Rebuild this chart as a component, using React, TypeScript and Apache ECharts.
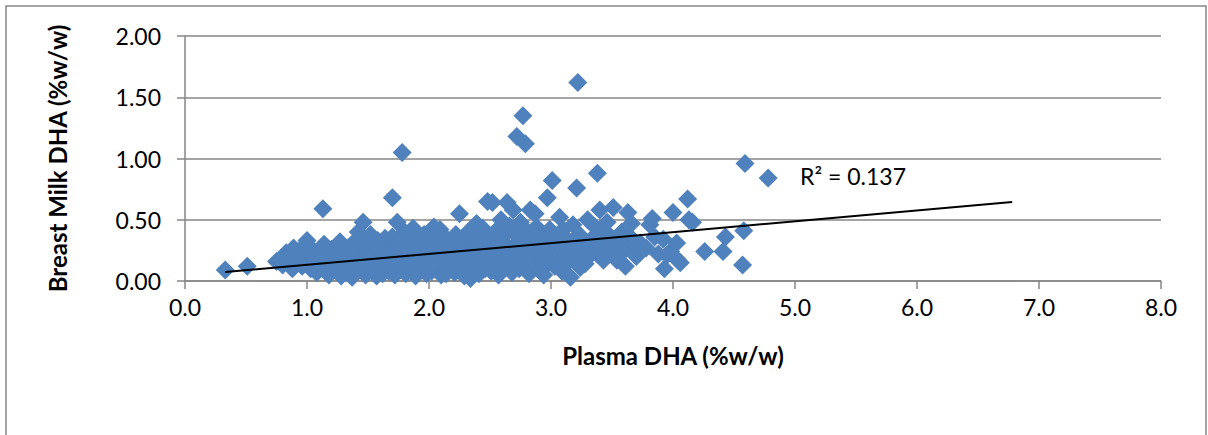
import React, { useEffect, useRef } from "react";
import * as echarts from "echarts";

// Plasma DHA (%w/w), Breast Milk DHA (%w/w) pairs, grouped by plasma range
const groupBelow1: [number, number][] = [
  [0.33, 0.09], [0.51, 0.12], [0.75, 0.16], [0.8, 0.13], [0.83, 0.23], [0.85, 0.18], [0.88, 0.1],
  [0.89, 0.27], [0.92, 0.22], [0.94, 0.15], [0.96, 0.12], [0.97, 0.28], [1.0, 0.33], [0.98, 0.2], [0.9, 0.17],
];
const group1to15: [number, number][] = [
  [1.03, 0.1], [1.05, 0.25], [1.06, 0.18], [1.08, 0.07], [1.1, 0.14], [1.12, 0.22], [1.13, 0.59], [1.14, 0.3],
  [1.15, 0.1], [1.17, 0.19], [1.18, 0.05], [1.2, 0.26], [1.22, 0.15], [1.23, 0.09], [1.25, 0.21], [1.26, 0.29],
  [1.28, 0.04], [1.29, 0.13], [1.3, 0.24], [1.32, 0.18], [1.33, 0.08], [1.35, 0.28], [1.36, 0.12], [1.38, 0.21],
  [1.39, 0.06], [1.4, 0.33], [1.41, 0.16], [1.43, 0.25], [1.44, 0.1], [1.45, 0.37], [1.46, 0.48], [1.47, 0.2],
  [1.48, 0.05], [1.49, 0.3], [1.5, 0.14], [1.42, 0.4], [1.27, 0.32], [1.19, 0.12], [1.09, 0.2], [1.37, 0.03],
];
const group15to2: [number, number][] = [
  [1.51, 0.22], [1.52, 0.38], [1.53, 0.09], [1.55, 0.27], [1.56, 0.17], [1.57, 0.04], [1.58, 0.33], [1.6, 0.12],
  [1.61, 0.24], [1.62, 0.06], [1.63, 0.19], [1.65, 0.3], [1.66, 0.14], [1.67, 0.08], [1.68, 0.25], [1.7, 0.68],
  [1.7, 0.36], [1.71, 0.18], [1.72, 0.05], [1.73, 0.28], [1.74, 0.48], [1.75, 0.13], [1.76, 0.22], [1.77, 0.09],
  [1.78, 1.05], [1.78, 0.33], [1.79, 0.16], [1.8, 0.4], [1.81, 0.06], [1.82, 0.26], [1.83, 0.2], [1.84, 0.11],
  [1.86, 0.3], [1.87, 0.43], [1.88, 0.15], [1.89, 0.04], [1.9, 0.24], [1.91, 0.35], [1.92, 0.19], [1.93, 0.09],
  [1.94, 0.28], [1.95, 0.13], [1.96, 0.38], [1.97, 0.21], [1.98, 0.06], [1.99, 0.31], [1.54, 0.14], [1.64, 0.35],
  [1.69, 0.11], [1.85, 0.37],
];
const group2to25: [number, number][] = [
  [2.0, 0.16], [2.01, 0.26], [2.02, 0.08], [2.03, 0.34], [2.05, 0.2], [2.06, 0.12], [2.07, 0.29], [2.09, 0.42],
  [2.1, 0.05], [2.11, 0.23], [2.12, 0.17], [2.13, 0.36], [2.15, 0.1], [2.16, 0.27], [2.17, 0.31], [2.18, 0.14],
  [2.2, 0.21], [2.21, 0.07], [2.22, 0.38], [2.23, 0.25], [2.24, 0.18], [2.25, 0.55], [2.26, 0.11], [2.27, 0.33],
  [2.28, 0.22], [2.29, 0.04], [2.3, 0.28], [2.31, 0.15], [2.32, 0.4], [2.33, 0.09], [2.34, 0.02], [2.35, 0.24],
  [2.36, 0.19], [2.37, 0.35], [2.38, 0.12], [2.39, 0.47], [2.4, 0.27], [2.41, 0.06], [2.42, 0.21], [2.43, 0.31],
  [2.44, 0.16], [2.45, 0.38], [2.46, 0.1], [2.47, 0.25], [2.48, 0.65], [2.49, 0.19], [2.04, 0.44], [2.14, 0.06],
  [2.19, 0.3], [2.44, 0.43],
];
const group25to3: [number, number][] = [
  [2.5, 0.33], [2.51, 0.08], [2.52, 0.64], [2.53, 0.22], [2.54, 0.15], [2.55, 0.41], [2.56, 0.28], [2.57, 0.05],
  [2.58, 0.18], [2.6, 0.36], [2.61, 0.24], [2.62, 0.11], [2.63, 0.3], [2.64, 0.64], [2.65, 0.2], [2.66, 0.45],
  [2.67, 0.14], [2.68, 0.07], [2.69, 0.58], [2.7, 0.26], [2.71, 0.38], [2.72, 1.18], [2.72, 0.17], [2.73, 0.32],
  [2.74, 0.1], [2.75, 0.48], [2.76, 0.22], [2.77, 1.35], [2.78, 0.29], [2.79, 1.12], [2.8, 0.14], [2.81, 0.4],
  [2.82, 0.06], [2.83, 0.58], [2.84, 0.25], [2.85, 0.34], [2.86, 0.18], [2.88, 0.44], [2.89, 0.12], [2.9, 0.28],
  [2.91, 0.37], [2.92, 0.09], [2.93, 0.21], [2.95, 0.31], [2.97, 0.68], [2.98, 0.16], [2.99, 0.42], [2.59, 0.5],
  [2.87, 0.55], [2.94, 0.05],
];
const group3to35: [number, number][] = [
  [3.01, 0.82], [3.02, 0.25], [3.03, 0.12], [3.04, 0.36], [3.05, 0.19], [3.07, 0.52], [3.08, 0.29], [3.09, 0.08],
  [3.1, 0.42], [3.12, 0.22], [3.13, 0.15], [3.14, 0.33], [3.16, 0.03], [3.17, 0.27], [3.18, 0.46], [3.2, 0.18],
  [3.21, 0.76], [3.22, 1.62], [3.23, 0.38], [3.24, 0.11], [3.25, 0.24], [3.27, 0.31], [3.28, 0.14], [3.3, 0.5],
  [3.31, 0.2], [3.33, 0.28], [3.35, 0.36], [3.36, 0.44], [3.38, 0.88], [3.38, 0.22], [3.4, 0.58], [3.41, 0.31],
  [3.43, 0.17], [3.45, 0.4], [3.46, 0.48], [3.48, 0.26], [3.5, 0.35], [3.51, 0.6],
];
const groupAbove35: [number, number][] = [
  [3.53, 0.21], [3.54, 0.17], [3.56, 0.3], [3.58, 0.4], [3.6, 0.25], [3.61, 0.12], [3.63, 0.56], [3.65, 0.36],
  [3.66, 0.47], [3.68, 0.3], [3.7, 0.2], [3.73, 0.31], [3.78, 0.27], [3.81, 0.46], [3.83, 0.51], [3.85, 0.36],
  [3.88, 0.22], [3.92, 0.34], [3.93, 0.1], [3.95, 0.21], [3.98, 0.24], [4.0, 0.56], [4.03, 0.31], [4.04, 0.17],
  [4.06, 0.15], [4.12, 0.67], [4.13, 0.5], [4.16, 0.48], [4.26, 0.24], [4.41, 0.24], [4.43, 0.36], [4.57, 0.13],
  [4.58, 0.41], [4.59, 0.96], [4.78, 0.84],
];

// Linear trendline, forecast forward to 6.78
const trendX = [0.33, 6.78];
const trendY = [0.073, 0.645];
const rSquaredLabel = "R² = 0.137";

const xTicks = { min: 0, max: 8, interval: 1 };
const yTicks = { min: 0, max: 2, interval: 0.5 };

const FONT = "Lato, 'Open Sans', sans-serif";
const GRAY = "#868686";

export default function App() {
  const ref = useRef<HTMLDivElement>(null);
  useEffect(() => {
    if (!ref.current) return;
    const chart = echarts.init(ref.current, undefined, { renderer: "svg" });
    const points = [
      ...groupBelow1, ...group1to15, ...group15to2, ...group2to25,
      ...group25to3, ...group3to35, ...groupAbove35,
    ];
    chart.setOption({
      animation: false,
      backgroundColor: "#fff",
      grid: { left: 185, right: 47, top: 36, bottom: 154, containLabel: false },
      xAxis: {
        type: "value",
        min: xTicks.min, max: xTicks.max, interval: xTicks.interval,
        name: "Plasma DHA (%w/w)",
        nameLocation: "middle",
        nameGap: 62,
        nameTextStyle: { fontFamily: FONT, fontWeight: "bold", fontSize: 24, color: "#000" },
        axisLine: { show: true, lineStyle: { color: GRAY, width: 1.5 } },
        axisTick: { show: true, length: 8, lineStyle: { color: GRAY, width: 1.5 } },
        axisLabel: { fontFamily: FONT, fontSize: 23, color: "#000", margin: 14, formatter: (v: number) => v.toFixed(1) },
        splitLine: { show: false },
      },
      yAxis: {
        type: "value",
        min: yTicks.min, max: yTicks.max, interval: yTicks.interval,
        name: "Breast Milk DHA (%w/w)",
        nameLocation: "middle",
        nameGap: 116,
        nameTextStyle: { fontFamily: FONT, fontWeight: "bold", fontSize: 24, color: "#000" },
        axisLine: { show: true, lineStyle: { color: GRAY, width: 1.5 } },
        axisTick: { show: true, length: 8, lineStyle: { color: GRAY, width: 1.5 } },
        axisLabel: { fontFamily: FONT, fontSize: 23, color: "#000", margin: 24, formatter: (v: number) => v.toFixed(2) },
        splitLine: { show: true, lineStyle: { color: GRAY, width: 1.5 } },
      },
      series: [
        {
          type: "scatter",
          data: points,
          symbol: "diamond",
          symbolSize: 19,
          itemStyle: { color: "#4F81BD", borderWidth: 0, opacity: 1 },
          z: 2,
        },
        {
          type: "line",
          data: trendX.map((x, i) => [x, trendY[i]]),
          symbol: "none",
          lineStyle: { color: "#000", width: 2 },
          z: 3,
        },
      ],
      graphic: [
        {
          type: "rect",
          shape: { x: 6, y: 6, width: 1200, height: 460 },
          style: { fill: "none", stroke: GRAY, lineWidth: 1.5 },
          silent: true,
        },
        {
          type: "text",
          left: 800,
          top: 164,
          style: { text: rSquaredLabel, font: `23px ${FONT}`, fill: "#000" },
        },
      ],
    });
    return () => chart.dispose();
  }, []);
  return <div ref={ref} style={{ position: "fixed", left: 0, top: 0, width: 1208, height: 435 }} />;
}
